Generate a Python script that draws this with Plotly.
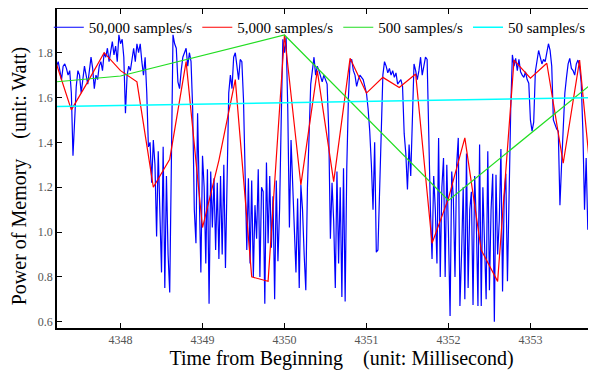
import plotly.graph_objects as go

# ---------------- data ----------------
blue_start = 4347.22
blue_step = 0.02
blue_y = [
    1.74, 1.76, 1.72, 1.68, 1.74, 1.75, 1.73, 1.70, 1.72, 1.62,
    1.34, 1.50, 1.65, 1.72, 1.70, 1.62, 1.68, 1.74, 1.70, 1.66,
    1.72, 1.78, 1.73, 1.64, 1.70, 1.68, 1.74, 1.76, 1.72, 1.80,
    1.78, 1.82, 1.76, 1.80, 1.85, 1.79, 1.83, 1.76, 1.88, 1.84,
    1.86, 1.78, 1.53, 1.70, 1.74, 1.72, 1.78, 1.82, 1.76, 1.84,
    1.80, 1.84, 1.76, 1.70, 1.78, 1.62, 1.38, 1.40, 1.22, 1.41,
    1.30, 0.98, 1.36, 1.05, 0.82, 1.38, 0.75, 1.25, 0.90, 0.73,
    1.45, 1.88, 1.84, 1.82, 1.67, 1.64, 1.72, 1.78, 1.80, 1.82,
    1.74, 1.80, 1.76, 1.55, 1.10, 0.95, 1.53, 1.20, 0.82, 1.34,
    1.20, 0.86, 1.28, 0.68, 1.27, 1.02, 1.24, 0.92, 1.22, 0.88,
    1.25, 0.90, 1.30, 0.84, 1.34, 1.62, 1.70, 1.64, 1.78, 1.80,
    1.74, 1.68, 1.77, 1.76, 1.59, 1.20, 0.92, 1.24, 0.86, 1.23,
    0.80, 1.12, 0.97, 1.28, 0.80, 1.20, 1.18, 0.68, 1.31, 0.95,
    1.25, 0.93, 1.16, 0.70, 1.23, 0.87, 1.10, 1.50, 1.86, 1.80,
    1.87, 1.55, 1.02, 1.41, 1.18, 1.05, 0.82, 1.15, 0.75, 1.21,
    1.10, 0.90, 0.74, 1.20, 1.45, 1.66, 1.72, 1.78, 1.70, 1.74,
    1.72, 1.69, 1.67, 1.70, 1.68, 1.66, 1.45, 0.97, 1.22, 1.05,
    0.75, 1.27, 0.86, 1.20, 0.71, 1.285, 0.69, 1.29, 1.60, 1.76,
    1.77, 1.72, 1.70, 1.65, 1.68, 1.70, 1.69, 1.68, 1.65, 1.62,
    1.55, 1.45, 1.30, 1.10, 1.40, 0.91, 0.92, 1.20, 1.45, 1.70,
    1.76, 1.74, 1.71, 1.73, 1.70, 1.72, 1.69, 1.71, 1.66, 1.67,
    1.68, 1.65, 1.44, 1.35, 1.19, 1.39, 1.25, 1.50, 1.75, 1.72,
    1.68, 1.72, 1.78, 1.70, 1.74, 1.78, 1.77, 1.40, 1.10, 0.88,
    1.25, 1.10, 0.86, 1.42, 0.80, 1.20, 1.33, 0.80, 1.30, 1.00,
    0.625, 1.27, 1.15, 0.80, 1.30, 1.42, 0.67, 0.90, 1.20, 0.70,
    1.35, 0.75, 1.10, 1.18, 0.675, 1.25, 1.05, 0.67, 1.39, 0.67,
    1.20, 0.95, 0.70, 1.36, 0.74, 1.10, 1.26, 0.60, 1.255, 0.90,
    1.05, 1.37, 0.735, 1.15, 1.26, 0.78, 1.20, 1.55, 1.79, 1.74,
    1.775, 1.72, 1.77, 1.715, 1.70, 1.69, 1.715, 1.68, 1.664, 1.50,
    1.45, 1.49, 1.715, 1.76, 1.81, 1.78, 1.75, 1.77, 1.76, 1.80,
    1.84, 1.81, 1.74, 1.50, 1.48, 1.46, 1.45, 1.12, 1.30, 1.455,
    1.62, 1.69, 1.75, 1.775, 1.73, 1.72, 1.70, 1.75, 1.767, 1.74,
    1.664, 1.45, 1.10, 1.33, 1.01, 1.20, 0.86, 1.25, 0.95, 1.15,
]

red_start = 4347.2
red_step = 0.2
red_y = [
    1.77, 1.545, 1.67, 1.80, 1.72, 1.67, 1.20, 1.325, 1.76, 1.02,
    1.32, 1.68, 0.80, 0.78, 1.88, 1.21, 1.72, 1.225, 1.775, 1.62,
    1.69, 1.645, 1.705, 0.95, 1.15, 1.42, 0.92, 0.78, 1.767, 1.686,
    1.753, 1.307, 1.767, 1.00,
]

green_x = [4346, 4348, 4350, 4352, 4354]
green_y = [1.63, 1.696, 1.879, 1.141, 1.737]

cyan_x = [4340, 4360]
cyan_y = [1.517, 1.637]

series_names = ["50,000 samples/s", "5,000 samples/s", "500 samples/s", "50 samples/s"]
x_ticks = [4348, 4349, 4350, 4351, 4352, 4353]
y_ticks = [0.6, 0.8, 1.0, 1.2, 1.4, 1.6, 1.8]
y_tick_text = ["0.6", "0.8", "1.0", "1.2", "1.4", "1.6", "1.8"]
NB = "\u00a0"
ZW = "\u200b"
x_title = ZW + NB * 6 + "Time from Beginning" + NB * 4 + "(unit: Millisecond)"
y_title = "Power of Memory" + NB * 4 + "(unit: Watt)" + NB * 3 + ZW

# ---------------- figure ----------------
blue_x = [round(blue_start + blue_step * i, 4) for i in range(len(blue_y))]
red_x = [round(red_start + red_step * i, 4) for i in range(len(red_y))]

SERIF = "Liberation Serif, Times New Roman, serif"

fig = go.Figure()
fig.add_trace(go.Scatter(x=blue_x, y=blue_y, mode="lines", name=series_names[0],
                         line=dict(color="#0000ff", width=1.2)))
fig.add_trace(go.Scatter(x=red_x, y=red_y, mode="lines", name=series_names[1],
                         line=dict(color="#ff0000", width=1.2)))
fig.add_trace(go.Scatter(x=green_x, y=green_y, mode="lines", name=series_names[2],
                         line=dict(color="#22dd22", width=1.2)))
fig.add_trace(go.Scatter(x=cyan_x, y=cyan_y, mode="lines", name=series_names[3],
                         line=dict(color="#00ffff", width=1.5)))
# helper axis for right-side ticks
fig.add_trace(go.Scatter(x=[None], y=[None], yaxis="y2", showlegend=False, hoverinfo="skip"))

# the page body adds an 8px offset, so the figure is 8px smaller on each axis
fig.update_layout(
    width=588, height=362,
    margin=dict(l=49, r=0, t=1, b=42, autoexpand=False),
    paper_bgcolor="white", plot_bgcolor="white",
    font=dict(family=SERIF, color="black"),
    showlegend=True,
    legend=dict(orientation="h", x=-0.0245, xanchor="left", y=1.0094, yanchor="top",
                bgcolor="rgba(0,0,0,0)", bordercolor="rgba(0,0,0,0)", borderwidth=5,
                font=dict(size=15, family=SERIF, color="black"), itemwidth=30),
    xaxis=dict(range=[4347.225, 4353.8], tickvals=x_ticks, ticks="inside", ticklen=5,
               tickcolor="black", showline=True, linecolor="black", linewidth=1.5,
               mirror="ticks", showgrid=False, zeroline=False,
               tickfont=dict(size=12, color="#555555", family=SERIF),
               title=dict(text=x_title, font=dict(size=20, family=SERIF, color="black"),
                          standoff=1)),
    yaxis=dict(range=[0.5719, 1.995], tickvals=y_ticks, ticktext=y_tick_text,
               ticks="inside", ticklen=5, tickcolor="black", showline=True,
               linecolor="black", linewidth=1.5, mirror=False, showgrid=False,
               zeroline=False, tickfont=dict(size=12, color="#555555", family=SERIF),
               title=dict(text=y_title, font=dict(size=20, family=SERIF, color="black"),
                          standoff=7)),
    yaxis2=dict(range=[0.5719, 1.995], overlaying="y", side="right", tickvals=y_ticks,
                ticks="inside", ticklen=5, tickcolor="black", showline=False,
                showticklabels=False, showgrid=False, zeroline=False),
)

fig.write_html("out.html")
